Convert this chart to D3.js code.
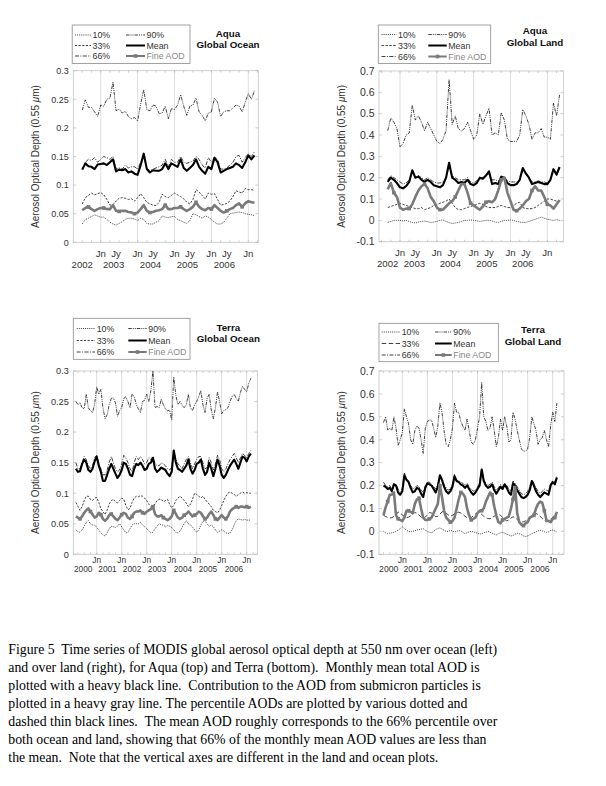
<!DOCTYPE html>
<html lang="en">
<head>
<meta charset="utf-8">
<script src="https://d3js.org/d3.v7.min.js"></script>
<style>
  body { margin: 0; background: #fff; }
  svg { display: block; font-family: "Liberation Sans", Arial, sans-serif; }
  .cap { font-family: "Liberation Serif", "Times New Roman", serif; }
</style>
</head>
<body>
<svg id="fig" width="606" height="786"></svg>
<script>
  // ---- data (monthly values; month index counted from Jan 2000 = 0) ----
  const aquaOceanStart = 30;   // Jul 2002
  const aquaLandStart = 32;
  const terraOceanStart = 2;   // Mar 2000
  const terraLandStart = 3;

  const aquaOcean10 = [0.032,0.040,0.042,0.045,0.048,0.046,0.044,0.044,0.040,0.035,
    0.032,0.030,0.033,0.036,0.040,0.042,0.042,0.041,0.038,0.042,
    0.040,0.033,0.032,0.032,0.035,0.038,0.046,0.044,0.043,0.045,
    0.045,0.040,0.038,0.035,0.033,0.038,0.050,0.048,0.045,0.042,
    0.046,0.044,0.040,0.035,0.032,0.032,0.035,0.042,0.050,0.051,
    0.052,0.053,0.052,0.050,0.049,0.048,0.047];
  const aquaOcean33 = [0.067,0.078,0.082,0.086,0.083,0.085,0.087,0.083,0.075,0.065,
    0.066,0.072,0.077,0.078,0.077,0.075,0.076,0.072,0.078,0.085,
    0.078,0.070,0.067,0.065,0.064,0.070,0.084,0.080,0.078,0.082,
    0.086,0.083,0.080,0.076,0.070,0.067,0.075,0.092,0.088,0.082,
    0.076,0.086,0.084,0.085,0.075,0.065,0.066,0.068,0.072,0.080,
    0.090,0.088,0.086,0.094,0.092,0.092,0.091];
  const aquaOcean66 = [0.128,0.140,0.145,0.143,0.148,0.140,0.145,0.150,0.148,0.145,
    0.150,0.128,0.130,0.128,0.135,0.130,0.132,0.132,0.128,0.140,
    0.150,0.130,0.125,0.128,0.130,0.132,0.135,0.145,0.132,0.145,
    0.140,0.140,0.150,0.140,0.138,0.140,0.142,0.150,0.145,0.135,
    0.130,0.148,0.140,0.148,0.145,0.128,0.128,0.130,0.135,0.140,
    0.150,0.152,0.140,0.148,0.155,0.150,0.158];
  const aquaOcean90 = [0.231,0.249,0.236,0.236,0.228,0.220,0.240,0.238,0.250,0.252,
    0.280,0.230,0.233,0.226,0.229,0.220,0.216,0.218,0.212,0.242,
    0.267,0.232,0.230,0.240,0.238,0.225,0.226,0.238,0.216,0.234,
    0.232,0.240,0.258,0.238,0.222,0.238,0.240,0.252,0.228,0.222,
    0.212,0.226,0.228,0.252,0.245,0.220,0.228,0.230,0.230,0.235,
    0.240,0.238,0.228,0.245,0.260,0.250,0.265];
  const aquaOceanMean = [0.127,0.138,0.133,0.132,0.128,0.136,0.137,0.138,0.135,0.140,
    0.145,0.124,0.127,0.126,0.128,0.122,0.124,0.120,0.118,0.135,
    0.155,0.128,0.122,0.126,0.125,0.125,0.128,0.138,0.128,0.138,
    0.135,0.132,0.145,0.130,0.125,0.130,0.135,0.145,0.132,0.125,
    0.120,0.132,0.128,0.148,0.140,0.122,0.125,0.128,0.130,0.132,
    0.138,0.135,0.130,0.140,0.152,0.145,0.152];
  const aquaOceanFine = [0.056,0.060,0.062,0.058,0.055,0.058,0.060,0.060,0.058,0.058,
    0.065,0.055,0.054,0.055,0.055,0.053,0.052,0.050,0.052,0.058,
    0.065,0.055,0.052,0.053,0.055,0.056,0.058,0.065,0.058,0.058,
    0.060,0.060,0.062,0.058,0.055,0.058,0.062,0.070,0.062,0.058,
    0.056,0.060,0.058,0.065,0.060,0.055,0.052,0.055,0.058,0.060,
    0.065,0.068,0.062,0.068,0.072,0.070,0.069];

  const aquaLand10 = [-0.010,-0.005,0.000,0.000,0.000,-0.003,0.000,-0.005,-0.010,-0.012,
    -0.008,-0.005,-0.003,-0.006,-0.010,-0.008,-0.005,0.000,0.002,-0.005,
    -0.010,-0.015,-0.012,-0.010,-0.005,0.000,0.000,0.002,0.000,-0.002,
    -0.005,-0.003,0.000,0.000,-0.003,-0.008,-0.010,-0.005,0.000,0.000,
    0.002,0.000,-0.005,-0.008,-0.010,-0.010,-0.005,0.000,0.005,0.010,
    0.015,0.010,0.005,0.002,0.000,0.003,0.000];
  const aquaLand33 = [0.060,0.065,0.070,0.075,0.080,0.075,0.070,0.065,0.060,0.055,
    0.055,0.060,0.050,0.055,0.060,0.070,0.075,0.080,0.085,0.090,
    0.100,0.080,0.060,0.050,0.050,0.055,0.060,0.065,0.070,0.075,
    0.080,0.075,0.065,0.060,0.060,0.060,0.065,0.070,0.065,0.060,
    0.060,0.070,0.080,0.085,0.060,0.055,0.055,0.055,0.060,0.070,
    0.080,0.090,0.100,0.100,0.095,0.090,0.090];
  const aquaLand66 = [0.190,0.210,0.200,0.190,0.180,0.170,0.175,0.190,0.230,0.200,
    0.210,0.200,0.190,0.200,0.190,0.180,0.175,0.175,0.180,0.200,
    0.260,0.210,0.200,0.190,0.190,0.190,0.200,0.180,0.175,0.185,
    0.200,0.200,0.210,0.220,0.190,0.190,0.185,0.200,0.200,0.185,
    0.180,0.180,0.180,0.190,0.235,0.215,0.200,0.180,0.180,0.185,
    0.180,0.180,0.175,0.190,0.235,0.210,0.245];
  const aquaLand90 = [0.42,0.48,0.46,0.43,0.345,0.36,0.40,0.41,0.54,0.47,
    0.49,0.46,0.42,0.46,0.43,0.40,0.37,0.36,0.38,0.42,
    0.66,0.45,0.49,0.43,0.42,0.43,0.46,0.42,0.38,0.40,
    0.50,0.45,0.49,0.525,0.40,0.41,0.40,0.505,0.47,0.38,
    0.37,0.37,0.37,0.40,0.52,0.49,0.45,0.38,0.41,0.41,
    0.43,0.39,0.39,0.38,0.55,0.49,0.59];
  const aquaLandMean = [0.180,0.200,0.190,0.175,0.155,0.150,0.160,0.180,0.235,0.200,
    0.205,0.190,0.180,0.190,0.180,0.165,0.160,0.155,0.165,0.200,
    0.270,0.200,0.190,0.175,0.180,0.175,0.190,0.170,0.165,0.175,
    0.200,0.195,0.210,0.230,0.170,0.175,0.170,0.205,0.200,0.175,
    0.165,0.165,0.170,0.190,0.245,0.220,0.200,0.170,0.175,0.180,
    0.175,0.170,0.170,0.190,0.240,0.215,0.250];
  const aquaLandFine = [0.145,0.175,0.130,0.110,0.060,0.050,0.055,0.055,0.075,0.110,
    0.140,0.160,0.170,0.150,0.110,0.090,0.060,0.050,0.050,0.065,
    0.080,0.090,0.110,0.140,0.170,0.170,0.130,0.080,0.070,0.060,
    0.050,0.065,0.085,0.090,0.085,0.100,0.140,0.190,0.200,0.130,
    0.090,0.050,0.045,0.055,0.070,0.090,0.100,0.140,0.160,0.140,
    0.140,0.110,0.075,0.070,0.055,0.075,0.095];

  const terraOcean10 = [0.040,0.037,0.036,0.040,0.046,0.052,0.055,0.050,0.048,0.048,
    0.044,0.040,0.035,0.032,0.030,0.035,0.042,0.046,0.045,0.044,
    0.046,0.050,0.045,0.040,0.035,0.036,0.042,0.048,0.050,0.050,
    0.050,0.052,0.048,0.045,0.042,0.038,0.035,0.036,0.042,0.046,
    0.050,0.048,0.048,0.045,0.047,0.046,0.044,0.040,0.036,0.035,
    0.038,0.044,0.050,0.055,0.050,0.048,0.045,0.040,0.036,0.040,
    0.048,0.054,0.055,0.050,0.046,0.048,0.045,0.040,0.036,0.038,
    0.040,0.038,0.035,0.034,0.035,0.040,0.048,0.055,0.058,0.057,
    0.056,0.057,0.056,0.056,0.056];
  const terraOcean33 = [0.085,0.078,0.072,0.078,0.088,0.095,0.095,0.090,0.088,0.092,
    0.093,0.085,0.075,0.070,0.065,0.072,0.082,0.088,0.090,0.086,
    0.084,0.088,0.092,0.090,0.080,0.073,0.075,0.085,0.092,0.095,
    0.094,0.096,0.095,0.092,0.088,0.082,0.078,0.080,0.082,0.088,
    0.090,0.090,0.086,0.088,0.090,0.082,0.076,0.080,0.088,0.092,
    0.095,0.092,0.088,0.084,0.078,0.082,0.090,0.100,0.098,0.095,
    0.092,0.095,0.090,0.086,0.082,0.078,0.072,0.070,0.068,0.072,
    0.080,0.088,0.095,0.100,0.102,0.100,0.098,0.095,0.098,0.100,
    0.102,0.100,0.101,0.100,0.100];
  const terraOcean66 = [0.150,0.140,0.140,0.150,0.160,0.155,0.145,0.140,0.145,0.158,
    0.162,0.150,0.140,0.130,0.130,0.138,0.150,0.160,0.150,0.140,
    0.135,0.138,0.148,0.162,0.158,0.150,0.140,0.135,0.150,0.160,
    0.155,0.160,0.155,0.148,0.150,0.158,0.155,0.160,0.148,0.145,
    0.145,0.150,0.148,0.145,0.140,0.138,0.142,0.168,0.155,0.148,
    0.145,0.140,0.148,0.155,0.160,0.150,0.140,0.148,0.155,0.160,
    0.160,0.150,0.140,0.142,0.158,0.150,0.138,0.148,0.162,0.155,
    0.140,0.135,0.140,0.148,0.155,0.160,0.165,0.158,0.150,0.158,
    0.165,0.162,0.158,0.165,0.170];
  const terraOcean90 = [0.250,0.245,0.248,0.240,0.238,0.262,0.240,0.235,0.232,0.245,
    0.274,0.262,0.270,0.240,0.222,0.228,0.245,0.255,0.256,0.248,
    0.226,0.235,0.240,0.255,0.258,0.250,0.240,0.262,0.258,0.245,
    0.238,0.232,0.250,0.252,0.262,0.250,0.268,0.300,0.240,0.242,
    0.240,0.254,0.245,0.238,0.235,0.236,0.220,0.290,0.260,0.245,
    0.250,0.244,0.240,0.245,0.262,0.240,0.235,0.245,0.250,0.258,
    0.268,0.245,0.232,0.255,0.262,0.236,0.222,0.240,0.266,0.250,
    0.230,0.235,0.237,0.240,0.250,0.258,0.262,0.255,0.250,0.265,
    0.275,0.270,0.266,0.280,0.288];
  const terraOceanMean = [0.140,0.135,0.136,0.148,0.155,0.150,0.138,0.135,0.140,0.152,
    0.160,0.145,0.135,0.120,0.120,0.130,0.140,0.148,0.140,0.132,
    0.125,0.130,0.138,0.150,0.148,0.140,0.130,0.128,0.140,0.148,
    0.146,0.150,0.145,0.138,0.140,0.148,0.150,0.158,0.140,0.135,
    0.138,0.142,0.140,0.138,0.132,0.128,0.135,0.170,0.150,0.140,
    0.138,0.135,0.140,0.145,0.155,0.140,0.132,0.138,0.148,0.150,
    0.155,0.140,0.130,0.135,0.150,0.140,0.128,0.140,0.155,0.145,
    0.130,0.125,0.130,0.138,0.145,0.150,0.155,0.148,0.140,0.150,
    0.160,0.158,0.152,0.160,0.165];
  const terraOceanFine = [0.062,0.060,0.058,0.062,0.068,0.072,0.075,0.070,0.065,0.060,
    0.062,0.068,0.065,0.058,0.055,0.058,0.064,0.066,0.062,0.058,
    0.056,0.060,0.065,0.068,0.066,0.060,0.058,0.062,0.068,0.070,
    0.070,0.072,0.068,0.066,0.070,0.072,0.074,0.078,0.066,0.062,
    0.062,0.064,0.060,0.058,0.056,0.058,0.062,0.072,0.066,0.060,
    0.058,0.060,0.064,0.066,0.070,0.066,0.062,0.064,0.066,0.070,
    0.068,0.062,0.058,0.060,0.066,0.070,0.064,0.058,0.056,0.060,
    0.064,0.060,0.058,0.062,0.070,0.074,0.076,0.078,0.076,0.078,
    0.078,0.077,0.078,0.076,0.078];

  const terraLand10 = [0.000,-0.006,-0.010,-0.008,-0.006,-0.004,0.000,0.005,0.012,0.020,
    0.012,0.005,0.000,-0.002,0.000,0.003,0.006,0.008,0.010,0.012,
    0.005,0.000,-0.004,-0.006,0.000,0.008,0.012,0.015,0.010,0.005,
    0.000,0.000,0.004,0.002,-0.003,0.000,0.004,0.002,-0.004,-0.010,
    -0.006,-0.002,0.000,-0.002,-0.005,-0.008,-0.012,-0.010,-0.006,-0.004,
    0.000,-0.004,-0.008,-0.012,-0.015,-0.010,-0.006,-0.004,-0.008,-0.012,
    -0.016,-0.020,-0.018,-0.012,-0.008,-0.010,-0.014,-0.020,-0.022,-0.020,
    -0.015,-0.010,-0.006,-0.002,0.002,0.005,0.002,-0.002,-0.004,-0.002,
    0.004,0.006,0.002,-0.003];
  const terraLand33 = [0.070,0.065,0.060,0.058,0.060,0.065,0.072,0.085,0.080,0.072,
    0.065,0.060,0.062,0.068,0.075,0.082,0.080,0.072,0.062,0.056,
    0.062,0.072,0.082,0.080,0.072,0.064,0.066,0.075,0.085,0.088,
    0.080,0.072,0.066,0.070,0.076,0.080,0.084,0.080,0.074,0.066,
    0.060,0.056,0.060,0.068,0.076,0.082,0.080,0.074,0.066,0.060,
    0.056,0.055,0.060,0.066,0.070,0.074,0.070,0.062,0.052,0.046,
    0.050,0.058,0.064,0.060,0.052,0.044,0.040,0.042,0.046,0.050,
    0.056,0.062,0.070,0.078,0.074,0.066,0.056,0.048,0.042,0.045,
    0.052,0.062,0.072,0.082];
  const terraLand66 = [0.215,0.200,0.195,0.200,0.185,0.210,0.205,0.185,0.175,0.185,
    0.255,0.230,0.220,0.200,0.185,0.190,0.200,0.195,0.180,0.170,
    0.200,0.215,0.215,0.205,0.195,0.185,0.205,0.240,0.230,0.205,
    0.190,0.180,0.185,0.205,0.250,0.225,0.220,0.215,0.210,0.200,
    0.210,0.195,0.185,0.175,0.180,0.195,0.210,0.275,0.225,0.210,
    0.200,0.205,0.215,0.195,0.180,0.190,0.205,0.195,0.210,0.200,
    0.185,0.175,0.220,0.210,0.195,0.180,0.165,0.160,0.165,0.175,
    0.195,0.225,0.210,0.190,0.175,0.165,0.175,0.185,0.180,0.175,
    0.210,0.220,0.215,0.245];
  const terraLand90 = [0.475,0.50,0.443,0.45,0.44,0.50,0.45,0.375,0.40,0.43,
    0.535,0.50,0.47,0.40,0.38,0.44,0.46,0.45,0.40,0.34,
    0.45,0.48,0.485,0.485,0.45,0.41,0.46,0.56,0.52,0.44,
    0.38,0.37,0.40,0.45,0.56,0.52,0.52,0.48,0.46,0.44,
    0.49,0.44,0.39,0.38,0.40,0.45,0.50,0.65,0.50,0.48,
    0.44,0.45,0.50,0.44,0.37,0.41,0.49,0.44,0.50,0.46,
    0.39,0.40,0.52,0.49,0.44,0.40,0.36,0.35,0.35,0.36,
    0.41,0.50,0.47,0.44,0.38,0.40,0.41,0.44,0.40,0.37,
    0.46,0.52,0.48,0.56];
  const terraLandMean = [0.200,0.195,0.185,0.190,0.175,0.205,0.200,0.170,0.160,0.175,
    0.245,0.225,0.215,0.190,0.170,0.175,0.190,0.185,0.165,0.150,
    0.190,0.210,0.205,0.200,0.185,0.170,0.195,0.245,0.225,0.195,
    0.175,0.165,0.175,0.195,0.240,0.220,0.215,0.205,0.200,0.190,
    0.200,0.185,0.170,0.160,0.170,0.185,0.200,0.270,0.220,0.200,
    0.190,0.195,0.205,0.180,0.165,0.180,0.195,0.185,0.205,0.190,
    0.170,0.160,0.210,0.200,0.180,0.165,0.150,0.145,0.150,0.160,
    0.180,0.220,0.200,0.175,0.160,0.150,0.160,0.170,0.165,0.160,
    0.200,0.215,0.205,0.235];
  const terraLandFine = [0.070,0.105,0.130,0.160,0.160,0.170,0.070,0.055,0.050,0.045,
    0.060,0.090,0.090,0.085,0.080,0.120,0.140,0.145,0.100,0.060,
    0.050,0.050,0.055,0.060,0.080,0.100,0.120,0.200,0.150,0.090,
    0.060,0.050,0.040,0.045,0.060,0.100,0.140,0.170,0.165,0.150,
    0.100,0.070,0.050,0.055,0.060,0.080,0.090,0.090,0.100,0.130,
    0.150,0.170,0.160,0.110,0.070,0.040,0.035,0.050,0.055,0.060,
    0.065,0.100,0.140,0.195,0.080,0.040,0.030,0.025,0.035,0.040,
    0.060,0.065,0.070,0.100,0.120,0.130,0.125,0.090,0.050,0.045,
    0.040,0.055,0.060,0.085];

  // ---- ticks / labels ----
  const oceanYTicks = [0, 0.05, 0.1, 0.15, 0.2, 0.25, 0.3];
  const landYTicks = [-0.1, 0, 0.1, 0.2, 0.3, 0.4, 0.5, 0.6, 0.7];
  const aquaJnTicks = [36, 48, 60, 72, 84];
  const aquaJyTicks = [41, 53, 65, 77];
  const aquaYears = ["2002", "2003", "2004", "2005", "2006"];
  const aquaOceanYearTicks = [30, 40.2, 52.2, 64.2, 76.2];
  const aquaLandYearTicks = [32, 40.7, 52.4, 64.3, 76];
  const terraJnTicks = [12, 24, 36, 48, 60, 72, 84];
  const terraYears = ["2000", "2001", "2002", "2003", "2004", "2005", "2006"];
  const terraYearTicks = [5.5, 17.2, 29, 41, 53.4, 65.4, 77.9];
  const legendLabels = ["10%", "33%", "66%", "90%", "Mean", "Fine AOD"];

  const caption = [
    "Figure 5  Time series of MODIS global aerosol optical depth at 550 nm over ocean (left)",
    "and over land (right), for Aqua (top) and Terra (bottom).  Monthly mean total AOD is",
    "plotted with a heavy black line.  Contribution to the AOD from submicron particles is",
    "plotted in a heavy gray line. The percentile AODs are plotted by various dotted and",
    "dashed thin black lines.  The mean AOD roughly corresponds to the 66% percentile over",
    "both ocean and land, showing that 66% of the monthly mean AOD values are less than",
    "the mean.  Note that the vertical axes are different in the land and ocean plots."
  ];

  const svg = d3.select("#fig");
  const gray = "#7a7a7a";

  function lineStyles(dash33) {
    return [
      { w: 0.8, c: "#111", dash: "1,1.1" },           // 10%
      { w: 0.8, c: "#111", dash: dash33 },            // 33%
      { w: 0.8, c: "#111", dash: "4,1.4,1,1.4" },     // 66%
      { w: 0.8, c: "#111", dash: "3.5,1,1,1,1,1" },   // 90%
      { w: 2.1, c: "#000", dash: null },              // Mean
      { w: 2.6, c: gray, dash: null }                 // Fine AOD
    ];
  }

  const panels = [
    { left: 73.3, right: 258.3, top: 70.7, bottom: 242.3, xDom: [27.09, 87.25], yDom: [0, 0.3],
      yTicks: oceanYTicks, yFont: 9, start: aquaOceanStart,
      series: [aquaOcean10, aquaOcean33, aquaOcean66, aquaOcean90, aquaOceanMean, aquaOceanFine],
      jn: aquaJnTicks, jy: aquaJyTicks, yearTicks: aquaOceanYearTicks, years: aquaYears, xFont: 9.6, row1: 11, row2: 22,
      sat: "Aqua", region: "Global Ocean", titleX: 228, titleY: [33, 44],
      box: [72.2, 25, 190, 63.5], rows: [35, 45.5, 56], c1: [75, 91, 92.5], c2: [126, 145, 146.5], dash33: "2.2,1.4" },
    { left: 379, right: 563.3, top: 71, bottom: 241.7, xDom: [29.16, 89.2], yDom: [-0.1, 0.7],
      yTicks: landYTicks, yFont: 10.5, start: aquaLandStart,
      series: [aquaLand10, aquaLand33, aquaLand66, aquaLand90, aquaLandMean, aquaLandFine],
      jn: aquaJnTicks, jy: aquaJyTicks, yearTicks: aquaLandYearTicks, years: aquaYears, xFont: 9.6, row1: 11, row2: 22,
      sat: "Aqua", region: "Global Land", titleX: 535, titleY: [30.5, 42],
      box: [378.3, 25, 490.7, 63.5], rows: [34.5, 45.5, 56.5], c1: [381.5, 396.5, 398], c2: [428.3, 446.7, 448.3], dash33: "2.4,1.5" },
    { left: 73.3, right: 257.3, top: 371, bottom: 554.3, xDom: [0.77, 89.1], yDom: [0, 0.3],
      yTicks: oceanYTicks, yFont: 9.2, start: terraOceanStart,
      series: [terraOcean10, terraOcean33, terraOcean66, terraOcean90, terraOceanMean, terraOceanFine],
      jn: terraJnTicks, jy: [], yearTicks: terraYearTicks, years: terraYears, xFont: 8.3, row1: 6, row2: 14.3,
      sat: "Terra", region: "Global Ocean", titleX: 228.3, titleY: [327, 338.5],
      box: [73.3, 318.3, 190, 359.3], rows: [328.5, 340.5, 352], c1: [76.7, 95, 96.7], c2: [128.3, 146.7, 148.3], dash33: "2.2,1.4" },
    { left: 379, right: 564, top: 371, bottom: 554.3, xDom: [0.85, 89.4], yDom: [-0.1, 0.7],
      yTicks: landYTicks, yFont: 10.5, start: terraLandStart,
      series: [terraLand10, terraLand33, terraLand66, terraLand90, terraLandMean, terraLandFine],
      jn: terraJnTicks, jy: [], yearTicks: terraYearTicks, years: terraYears, xFont: 8.7, row1: 6, row2: 14.3,
      sat: "Terra", region: "Global Land", titleX: 533, titleY: [329.5, 341],
      box: [379, 323.3, 498.3, 361.7], rows: [332, 343.5, 355], c1: [381.7, 400, 401.7], c2: [435, 451.7, 453.3], dash33: "4.5,2.5" }
  ];

  panels.forEach(p => {
    const x = d3.scaleLinear().domain(p.xDom).range([p.left, p.right]);
    const y = d3.scaleLinear().domain(p.yDom).range([p.bottom, p.top]);
    const g = svg.append("g");
    const styles = lineStyles(p.dash33);

    // vertical grid lines at January
    g.selectAll(".grid").data(p.jn).enter().append("line")
      .attr("x1", d => x(d)).attr("x2", d => x(d))
      .attr("y1", p.top).attr("y2", p.bottom)
      .attr("stroke", "#d4d4d4").attr("stroke-width", 0.8);

    // frame
    g.append("rect").attr("x", p.left).attr("y", p.top)
      .attr("width", p.right - p.left).attr("height", p.bottom - p.top)
      .attr("fill", "none").attr("stroke", "#c4c4c4").attr("stroke-width", 0.8);

    // minor ticks every 3 months on top/bottom
    const mt = d3.range(Math.ceil(p.xDom[0] / 3) * 3, p.xDom[1], 3);
    g.selectAll(".mt").data(mt).enter().append("path")
      .attr("d", d => `M${x(d)},${p.bottom}v-2M${x(d)},${p.top}v2`)
      .attr("stroke", "#b0b0b0").attr("stroke-width", 0.6);

    // y ticks + labels
    g.selectAll(".yt").data(p.yTicks).enter().append("path")
      .attr("d", d => `M${p.left},${y(d)}h3M${p.right},${y(d)}h-3`)
      .attr("stroke", "#b0b0b0").attr("stroke-width", 0.6);
    g.selectAll(".yl").data(p.yTicks).enter().append("text")
      .attr("x", p.left - 4.5).attr("y", d => y(d)).attr("dy", "0.36em")
      .attr("text-anchor", "end").attr("font-size", p.yFont).attr("fill", "#333")
      .text(d => String(+d.toFixed(2)));

    // x tick labels
    const row1 = p.jn.map(d => ({ m: d, t: "Jn" })).concat(p.jy.map(d => ({ m: d, t: "Jy" })));
    g.selectAll(".xl1").data(row1).enter().append("text")
      .attr("x", d => x(d.m)).attr("y", p.bottom + p.row1).attr("dy", "0.36em")
      .attr("text-anchor", "middle").attr("font-size", p.xFont).attr("fill", "#333")
      .text(d => d.t);
    g.selectAll(".xl2").data(p.years).enter().append("text")
      .attr("x", (d, i) => x(p.yearTicks[i])).attr("y", p.bottom + p.row2).attr("dy", "0.36em")
      .attr("text-anchor", "middle").attr("font-size", p.xFont).attr("fill", "#333")
      .text(d => d);

    // y axis label
    const ly = (p.top + p.bottom) / 2;
    const lt = g.append("text")
      .attr("transform", `translate(${p.left - (p.yFont > 10 ? 37.5 : 38.3)},${ly}) rotate(-90)`)
      .attr("dy", "0.36em").attr("text-anchor", "middle")
      .attr("font-size", 10).attr("fill", "#333");
    lt.append("tspan").text("Aerosol Optical Depth (0.55 ");
    lt.append("tspan").attr("font-style", "italic").text("\u03bc");
    lt.append("tspan").text("m)");

    // series
    p.series.forEach((vals, k) => {
      const st = styles[k];
      const line = d3.line().x((d, i) => x(p.start + i)).y(d => y(d));
      g.append("path").datum(vals).attr("d", line)
        .attr("fill", "none").attr("stroke", st.c).attr("stroke-width", st.w)
        .attr("stroke-dasharray", st.dash).attr("stroke-linejoin", "round");
      if (k === 5) {
        g.selectAll(".mk").data(vals.map((v, i) => [i, v]).filter(d => d[0] % 5 === 2))
          .enter().append("rect")
          .attr("x", d => x(p.start + d[0]) - 1.8).attr("y", d => y(d[1]) - 1.8)
          .attr("width", 3.6).attr("height", 3.6).attr("fill", gray);
      }
    });

    // legend
    g.append("rect").attr("x", p.box[0]).attr("y", p.box[1])
      .attr("width", p.box[2] - p.box[0]).attr("height", p.box[3] - p.box[1])
      .attr("fill", "#fff").attr("stroke", "#8a8a8a").attr("stroke-width", 0.8);
    legendLabels.forEach((lab, k) => {
      const col = k < 3 ? p.c1 : p.c2;
      const ry = p.rows[k % 3];
      const st = styles[k];
      g.append("line").attr("x1", col[0]).attr("x2", col[1]).attr("y1", ry).attr("y2", ry)
        .attr("stroke", st.c).attr("stroke-width", Math.min(st.w, 2))
        .attr("stroke-dasharray", st.dash);
      if (k === 5) {
        g.append("rect").attr("x", (col[0] + col[1]) / 2 - 1.8).attr("y", ry - 1.8)
          .attr("width", 3.6).attr("height", 3.6).attr("fill", gray);
      }
      g.append("text").attr("x", col[2]).attr("y", ry).attr("dy", "0.36em")
        .attr("font-size", 8.8).attr("fill", k === 5 ? "#888" : "#333").text(lab);
    });

    // title
    g.selectAll(".ti").data([p.sat, p.region]).enter().append("text")
      .attr("x", p.titleX).attr("y", (d, i) => p.titleY[i]).attr("dy", "0.36em")
      .attr("text-anchor", "middle").attr("font-size", 9.8).attr("font-weight", "bold")
      .attr("fill", "#111").text(d => d);
  });

  // caption
  svg.selectAll(".cap").data(caption).enter().append("text")
    .attr("class", "cap").attr("x", 8.3).attr("y", (d, i) => 654 + i * 17.95)
    .attr("font-size", 13.8).attr("fill", "#000").attr("xml:space", "preserve")
    .style("white-space", "pre").text(d => d);
</script>
</body>
</html>
